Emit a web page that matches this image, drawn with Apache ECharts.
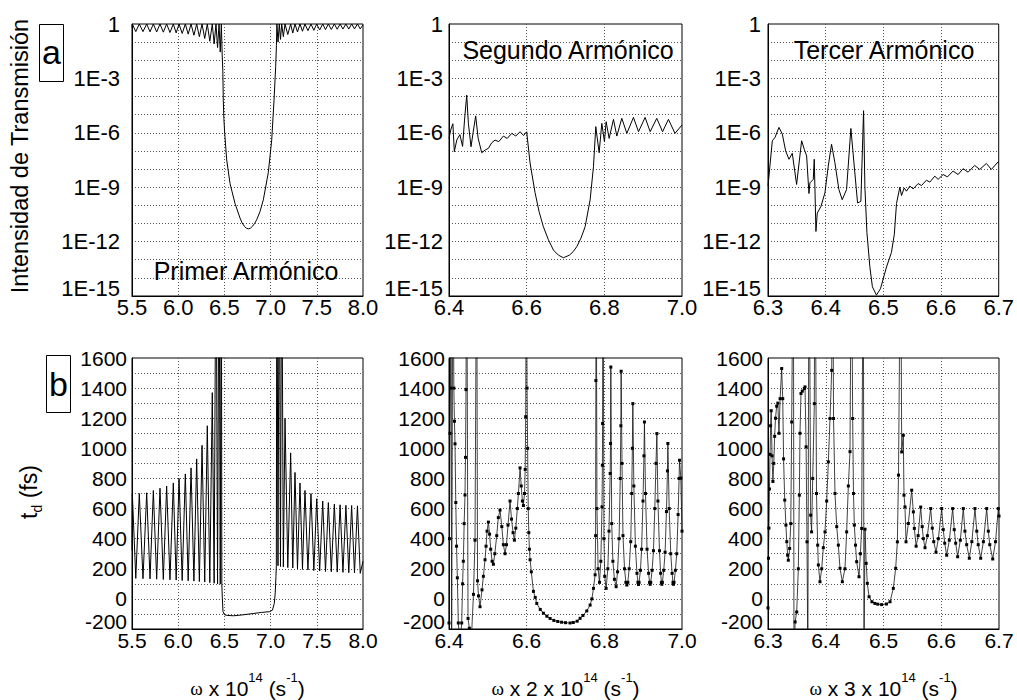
<!DOCTYPE html>
<html>
<head>
<meta charset="utf-8">
<script src="https://cdn.jsdelivr.net/npm/echarts@6/dist/echarts.min.js"></script>
<style>
  html, body { margin: 0; padding: 0; background: #fff; }
  #chart { width: 1017px; height: 700px; }
</style>
</head>
<body>
<div id="chart"></div>
<script>
// ---------- data ----------
// top row: log10 of the transmission intensity
const a1X = [5.500, 5.5036, 5.541, 5.579, 5.619, 5.659, 5.695, 5.731, 5.767, 5.803,
  5.839, 5.875, 5.911, 5.947, 5.978, 6.009, 6.043, 6.077, 6.108, 6.139,
  6.170, 6.200, 6.229, 6.258, 6.287, 6.315, 6.342, 6.369, 6.389, 6.409,
  6.426, 6.442, 6.455, 6.467, 6.476, 6.483, 6.488, 6.494, 6.503, 6.525,
  6.561, 6.615, 6.669, 6.692, 6.715, 6.737, 6.759, 6.782, 6.805, 6.827,
  6.849, 6.885, 6.921, 6.975, 7.012,
  7.037, 7.055, 7.063, 7.068, 7.080, 7.094, 7.107, 7.120, 7.138, 7.156,
  7.186, 7.217, 7.240, 7.264, 7.291, 7.318, 7.345, 7.372, 7.404, 7.437,
  7.468, 7.499, 7.531, 7.564, 7.594, 7.625, 7.657, 7.690, 7.721, 7.752,
  7.783, 7.815, 7.846, 7.877, 7.908, 7.940, 7.970, 8.000];
const a1Y = [-0.20, 0, -0.42, 0, -0.42, 0, -0.43, 0, -0.44, 0,
  -0.45, 0, -0.47, 0, -0.49, 0, -0.52, 0, -0.56, 0,
  -0.62, 0, -0.70, 0, -0.80, 0, -0.95, 0, -1.10, 0,
  -1.30, 0, -1.55, 0, -1.70, -2.60, -4.20, -5.20, -6.00, -7.50,
  -8.80, -9.90, -10.70, -10.97, -11.15, -11.26, -11.30, -11.26, -11.15, -11.00,
  -10.80, -10.35, -9.70, -8.20, -6.40,
  -4.20, -2.35, -1.20, 0, -1.00, 0, -0.85, 0, -0.70, 0,
  -0.58, 0, -0.50, 0, -0.44, 0, -0.40, 0, -0.37, 0,
  -0.35, 0, -0.33, 0, -0.31, 0, -0.30, 0, -0.29, 0,
  -0.28, 0, -0.28, 0, -0.27, 0, -0.27, -0.05];

const a2X = [6.4000, 6.4050, 6.4100, 6.4137, 6.4200, 6.4280, 6.4350, 6.4400, 6.4456, 6.4500,
  6.4567, 6.4620, 6.4687, 6.4750, 6.4843, 6.4930, 6.5013, 6.5100, 6.5186, 6.5280,
  6.5400, 6.5500, 6.5616, 6.5720, 6.5830, 6.5920, 6.6000, 6.6088, 6.6216, 6.6320, 6.6430,
  6.6560, 6.6690, 6.6820, 6.6946, 6.7100, 6.7200, 6.7290, 6.7400, 6.7505, 6.7634,
  6.7720, 6.7760, 6.7780, 6.7866,
  6.7935, 6.8003, 6.8046, 6.8124, 6.8235, 6.8322, 6.8450, 6.8580, 6.8750, 6.8880,
  6.9050, 6.9180, 6.9350, 6.9500, 6.9650, 6.9820, 7.0000];
const a2Y = [-6.30, -5.80, -5.50, -7.04, -6.40, -6.10, -6.75, -5.30, -3.92, -5.50,
  -6.77, -6.00, -5.07, -6.30, -7.10, -6.95, -6.86, -6.55, -6.40, -6.49,
  -6.18, -6.31, -6.03, -6.18, -5.94, -6.15, -5.94, -7.67, -9.30, -10.35, -11.18,
  -11.90, -12.47, -12.75, -12.89, -12.75, -12.55, -12.28, -11.80, -11.18, -9.70,
  -7.87, -6.40, -5.66, -7.10,
  -5.48, -6.49, -5.39, -6.31, -5.26, -6.18, -5.20, -6.03, -5.15, -5.94,
  -5.15, -5.94, -5.20, -5.94, -5.26, -6.03, -5.57];

const a3X = [6.3000, 6.3075, 6.3121, 6.3190, 6.3248, 6.3306, 6.3364, 6.3421, 6.3496, 6.3583,
  6.3629, 6.3670, 6.3710, 6.3727, 6.3785, 6.3802, 6.3831, 6.3854, 6.3918, 6.3987,
  6.4045, 6.4102, 6.4160, 6.4229, 6.4287, 6.4362, 6.4437, 6.4495, 6.4553, 6.4610,
  6.4657, 6.4680, 6.4715, 6.4766, 6.4810, 6.4880, 6.4950, 6.5055, 6.5140, 6.5190,
  6.5228, 6.5286, 6.5315, 6.5361, 6.5401, 6.5459, 6.5517, 6.5603, 6.5661, 6.5747,
  6.5805, 6.5892, 6.5949, 6.6036, 6.6111, 6.6209, 6.6296, 6.6382, 6.6469, 6.6584,
  6.6671, 6.6786, 6.6873, 6.6988, 6.7000];
const a3Y = [-8.94, -6.44, -6.26, -5.70, -6.07, -7.00, -7.46, -7.13, -8.85, -6.44,
  -6.91, -7.28, -9.35, -8.76, -8.57, -7.46, -11.44, -10.43, -10.06, -9.31,
  -7.83, -6.63, -7.65, -9.13, -9.69, -9.13, -5.76, -7.83, -9.87, -9.78,
  -4.78, -9.00, -11.50, -13.39, -14.49, -14.95, -14.60, -13.40, -12.60, -11.60,
  -9.90, -9.00, -9.46, -9.04, -9.22, -8.94, -9.09, -8.80, -8.91, -8.61,
  -8.72, -8.39, -8.57, -8.30, -8.43, -8.11, -8.30, -7.98, -8.17, -7.80,
  -8.02, -7.69, -8.02, -7.61, -7.62];

// bottom row: delay time t_d in fs (values above 1600 run off the frame)
const b1X = [5.500, 5.5036, 5.541, 5.579, 5.619, 5.659, 5.695, 5.731, 5.767, 5.803,
  5.839, 5.875, 5.911, 5.947, 5.978, 6.009, 6.043, 6.077, 6.108, 6.139,
  6.170, 6.200, 6.229, 6.258, 6.287, 6.315, 6.342, 6.369, 6.389, 6.409,
  6.426, 6.442, 6.455, 6.467, 6.472, 6.478, 6.485, 6.500, 6.530, 6.600,
  6.700, 6.800, 6.900, 6.990, 7.020, 7.040, 7.050, 7.058, 7.062, 7.068,
  7.080, 7.094, 7.107, 7.120, 7.138, 7.156, 7.186, 7.217, 7.240, 7.264,
  7.291, 7.318, 7.345, 7.372, 7.404, 7.437, 7.468, 7.499, 7.531, 7.564,
  7.594, 7.625, 7.657, 7.690, 7.721, 7.752, 7.783, 7.815, 7.846, 7.877,
  7.908, 7.940, 7.970, 8.000];
const b1Y = [320, 700, 136, 700, 134, 705, 133, 720, 131, 735,
  129, 750, 127, 770, 125, 800, 122, 830, 120, 870,
  118, 930, 115, 1020, 112, 1150, 108, 1370, 104, 2600,
  100, 2600, 98, 2600, 95, 0, -85, -105, -110, -112,
  -106, -98, -90, -85, -75, -30, 40, 150, 220, 2600,
  220, 2600, 215, 2600, 212, 1200, 208, 970, 205, 840,
  200, 770, 196, 720, 192, 700, 188, 665, 185, 650,
  182, 640, 180, 630, 178, 625, 176, 622, 174, 620,
  172, 618, 170, 250];

const b2X = [6.4000, 6.4012, 6.4025, 6.4038, 6.4052, 6.4068, 6.4100, 6.4125, 6.4140, 6.4155,
  6.4175, 6.4195, 6.4215, 6.4240, 6.4280, 6.4327, 6.4350, 6.4369, 6.4390, 6.4412,
  6.4425, 6.4438, 6.4455, 6.4490, 6.4524, 6.4570, 6.4630, 6.4670, 6.4713, 6.4735,
  6.4760, 6.4799, 6.4850, 6.4885, 6.4928, 6.4954, 6.4980, 6.5014, 6.5045, 6.5074,
  6.5110, 6.5143, 6.5180, 6.5229, 6.5270, 6.5314, 6.5360, 6.5400, 6.5443, 6.5480,
  6.5520, 6.5572, 6.5610, 6.5650, 6.5684, 6.5720, 6.5760, 6.5787, 6.5830, 6.5860,
  6.5890, 6.5916, 6.5945, 6.5962, 6.5975, 6.5995, 6.6010, 6.6025, 6.6040, 6.6055,
  6.6070, 6.6088, 6.6120, 6.6174, 6.6220, 6.6260, 6.6350, 6.6431, 6.6520, 6.6603,
  6.6700, 6.6800, 6.6900, 6.7000, 6.7119, 6.7200, 6.7300, 6.7376, 6.7450, 6.7548,
  6.7634, 6.7680, 6.7720, 6.7763, 6.7775, 6.7782, 6.7790, 6.7810, 6.7840, 6.7875,
  6.7910, 6.7940, 6.7950, 6.7955, 6.7965, 6.7990, 6.8010, 6.8046, 6.8090, 6.8120,
  6.8150, 6.8160, 6.8167, 6.8190, 6.8220, 6.8260, 6.8304, 6.8340, 6.8380, 6.8410,
  6.8425, 6.8433, 6.8455, 6.8480, 6.8520, 6.8555, 6.8580, 6.8605, 6.8640, 6.8680,
  6.8705, 6.8722, 6.8734, 6.8760, 6.8800, 6.8840, 6.8865, 6.8880, 6.8895, 6.8930,
  6.8960, 6.8995, 6.9020, 6.9033, 6.9060, 6.9100, 6.9140, 6.9165, 6.9180, 6.9195,
  6.9230, 6.9265, 6.9300, 6.9330, 6.9353, 6.9380, 6.9420, 6.9450, 6.9470, 6.9480,
  6.9495, 6.9530, 6.9565, 6.9600, 6.9625, 6.9636, 6.9670, 6.9710, 6.9745, 6.9768,
  6.9780, 6.9795, 6.9830, 6.9865, 6.9900, 6.9925, 6.9936, 6.9970, 7.0000];
const b2Y = [-160, 400, 1100, 1400, 2600, -400, 2600, 1400, 1180, 1030,
  640, 350, 140, -160, -300, -160, 100, 250, 500, 690,
  940, 1390, 2600, -130, -195, -300, 30, 390, 2600, 120,
  20, -52, 60, 150, 260, 350, 450, 510, 430, 330,
  250, 230, 300, 420, 540, 590, 480, 360, 300, 360,
  490, 650, 530, 440, 390, 470, 600, 700, 870, 750,
  650, 620, 700, 860, 1210, 2600, 1400, 1000, 600, 440,
  330, 260, 180, 50, 10, -30, -70, -95, -115, -130,
  -143, -150, -155, -158, -160, -157, -148, -129, -110, -80,
  -41, 0, 70, 160, 420, 1450, 2600, 600, 200, 110,
  250, 611, 888, 1165, 2600, 400, 150, 70, 200, 450,
  833, 1032, 1540, 500, 250, 130, 81, 180, 400, 800,
  1150, 1512, 900, 420, 200, 110, 92, 110, 200, 380,
  700, 1000, 1297, 750, 350, 170, 110, 96, 110, 190,
  330, 650, 950, 1175, 700, 330, 170, 110, 97, 110,
  190, 320, 600, 900, 1098, 650, 320, 170, 110, 97,
  110, 190, 310, 580, 850, 1032, 600, 300, 170, 110,
  97, 110, 190, 300, 560, 800, 921, 802, 450];

const b3X = [6.3000, 6.3008, 6.3016, 6.3025, 6.3035, 6.3045, 6.3055, 6.3070, 6.3085, 6.3100,
  6.3115, 6.3130, 6.3150, 6.3170, 6.3190, 6.3210, 6.3237, 6.3255, 6.3270, 6.3290,
  6.3310, 6.3325, 6.3340, 6.3352, 6.3375, 6.3395, 6.3410, 6.3439, 6.3450, 6.3470,
  6.3497, 6.3525, 6.3543, 6.3554, 6.3571, 6.3594, 6.3629, 6.3641, 6.3660, 6.3675,
  6.3690, 6.3710, 6.3739, 6.3755, 6.3774, 6.3802, 6.3814, 6.3840, 6.3860, 6.3872,
  6.3900, 6.3930, 6.3958, 6.3987, 6.4016, 6.4045, 6.4074, 6.4103, 6.4120, 6.4135,
  6.4160, 6.4190, 6.4218, 6.4247, 6.4287, 6.4333, 6.4362, 6.4391, 6.4420, 6.4445,
  6.4466, 6.4480, 6.4495, 6.4515, 6.4535, 6.4576, 6.4600, 6.4622, 6.4650, 6.4662,
  6.4680, 6.4700, 6.4720, 6.4750, 6.4800, 6.4850, 6.4900, 6.4968, 6.5050, 6.5113,
  6.5170, 6.5211, 6.5240, 6.5260, 6.5297, 6.5315, 6.5343, 6.5355, 6.5372, 6.5390,
  6.5430, 6.5488, 6.5517, 6.5534, 6.5565, 6.5600, 6.5644, 6.5670, 6.5690, 6.5719,
  6.5760, 6.5817, 6.5845, 6.5870, 6.5909, 6.5950, 6.6008, 6.6035, 6.6060, 6.6094,
  6.6140, 6.6198, 6.6225, 6.6250, 6.6284, 6.6330, 6.6382, 6.6410, 6.6440, 6.6486,
  6.6530, 6.6584, 6.6615, 6.6640, 6.6683, 6.6730, 6.6787, 6.6815, 6.6840, 6.6891,
  6.6940, 6.6988, 6.7000];
const b3Y = [-60, 270, 470, 730, 960, 1150, 1250, 950, 780, 900,
  1080, 1200, 1280, 1300, 1100, 1330, 1530, 1330, 930, 656,
  490, 380, 290, 257, 335, 500, 1175, 2600, -400, -153,
  -87, 200, 689, 1100, 1364, 1380, 1397, 1408, 1010, 379,
  -400, 2600, 556, 445, 800, 1297, 2600, 700, 357, 225,
  114, 200, 340, 445, 650, 910, 1198, 1518, 2600, 1198,
  700, 480, 357, 203, 114, 200, 445, 750, 978, 2600,
  1198, 700, 490, 357, 247, 147, 300, 468, 2600, -400,
  463, 236, 103, 14, -19, -30, -35, -38, -34, -19,
  70, 203, 379, 822, 2600, 976, 1087, 689, 611, 379,
  501, 722, 578, 468, 350, 420, 610, 480, 400, 340,
  420, 600, 470, 380, 310, 400, 600, 460, 370, 290,
  390, 600, 460, 370, 280, 390, 600, 450, 360, 270,
  380, 600, 450, 360, 270, 380, 600, 450, 360, 265,
  380, 600, 550];

// axis ranges per column
const xMin = [5.5, 6.4, 6.3];
const xMax = [8.0, 7.0, 6.7];
const xStep = [0.5, 0.2, 0.1];
const notes = ['Primer Armónico', 'Segundo Armónico', 'Tercer Armónico'];
const xTitles = ['{w|ω} x 10{s|14} (s{s|-1})', '{w|ω} x 2 x 10{s|14} (s{s|-1})', '{w|ω} x 3 x 10{s|14} (s{s|-1})'];

// ---------- chart ----------
const FONT = 'Liberation Sans, Arial, Helvetica, sans-serif';
const pairs = (xs, ys) => xs.map((x, i) => [x, ys[i]]);

const gridBox = [
  { left: 132, top: 24, width: 231, height: 272 },
  { left: 449, top: 24, width: 233, height: 272 },
  { left: 768, top: 24, width: 231, height: 272 },
  { left: 132, top: 358, width: 231, height: 271 },
  { left: 449, top: 358, width: 233, height: 271 },
  { left: 768, top: 358, width: 231, height: 271 }
];
const yLabelGap = [12, 6, 7, 5, 4, 5];

const dotted = { show: true, showMinLine: false, showMaxLine: false,
  lineStyle: { color: '#555', type: [1, 2], width: 1 } };

const grid = gridBox.map(g => Object.assign({ show: true, borderColor: '#000', borderWidth: 1 }, g));

const xAxis = gridBox.map((g, i) => {
  const c = i % 3;
  return {
    gridIndex: i, type: 'value', min: xMin[c], max: xMax[c], interval: xStep[c],
    axisLine: { show: true, onZero: false, lineStyle: { color: '#000' } },
    axisTick: { show: false },
    axisLabel: { color: '#000', fontFamily: FONT, fontSize: i < 3 ? 22 : 21, margin: i < 3 ? 0 : 1,
      formatter: v => v.toFixed(1) },
    splitLine: dotted
  };
});

const yAxis = gridBox.map((g, i) => {
  const top = i < 3;
  const size = top ? 22 : 21;
  // the lowest y label sits a little higher, clear of the first x label
  const low = { fontFamily: FONT, fontSize: size, color: '#000', padding: [0, 0, 16, 0] };
  return {
    gridIndex: i, type: 'value',
    min: top ? -15 : -200, max: top ? 0 : 1600, interval: top ? 1 : 100,
    axisLine: { show: true, onZero: false, lineStyle: { color: '#000' } },
    axisTick: { show: false },
    axisLabel: {
      color: '#000', fontFamily: FONT, fontSize: size, margin: yLabelGap[i],
      rich: { low },
      formatter: top
        ? v => (v === 0 ? '1' : (v === -15 ? '{low|1E-15}' : (v % 3 === 0 ? '1E' + v : '')))
        : v => (v === -200 ? '{low|-200}' : (v % 200 === 0 ? String(v) : ''))
    },
    splitLine: dotted
  };
});

const plain = { type: 'line', showSymbol: false, silent: true, clip: true,
  lineStyle: { color: '#000', width: 1 } };
const dots = { type: 'line', showSymbol: true, showAllSymbol: true, symbol: 'rect', symbolSize: 3,
  silent: true, clip: true, itemStyle: { color: '#000' }, lineStyle: { color: '#111', width: 0.8 } };

const series = [
  Object.assign({ xAxisIndex: 0, yAxisIndex: 0, data: pairs(a1X, a1Y) }, plain),
  Object.assign({ xAxisIndex: 1, yAxisIndex: 1, data: pairs(a2X, a2Y) }, plain),
  Object.assign({ xAxisIndex: 2, yAxisIndex: 2, data: pairs(a3X, a3Y) }, plain),
  Object.assign({ xAxisIndex: 3, yAxisIndex: 3, data: pairs(b1X, b1Y) }, plain),
  Object.assign({ xAxisIndex: 4, yAxisIndex: 4, data: pairs(b2X, b2Y) }, dots),
  Object.assign({ xAxisIndex: 5, yAxisIndex: 5, data: pairs(b3X, b3Y) }, dots)
];

const txt = (x, y, text, size, extra) => ({
  type: 'text', x, y, silent: true, z: 100,
  style: Object.assign({ text, fill: '#000', fontFamily: FONT, fontSize: size,
    align: 'center', verticalAlign: 'middle' }, extra || {})
});

const graphic = [
  // axis titles
  Object.assign(txt(20, 156, 'Intensidad de Transmisión', 23.5), { rotation: Math.PI / 2 }),
  Object.assign(txt(29, 492, '{t|t}{d|d} (fs)', 23, {
    lineHeight: 30,
    rich: { t: { fontSize: 23, lineHeight: 30 }, d: { fontSize: 14, lineHeight: 14, verticalAlign: 'bottom' } }
  }), { rotation: Math.PI / 2 }),
  // panel letters
  { type: 'rect', silent: true, z: 100, shape: { x: 39.5, y: 24.5, width: 24, height: 57 },
    style: { fill: '#fff', stroke: '#000', lineWidth: 1 } },
  txt(51.5, 52, 'a', 34),
  { type: 'rect', silent: true, z: 100, shape: { x: 46.5, y: 355.5, width: 24, height: 57 },
    style: { fill: '#fff', stroke: '#000', lineWidth: 1 } },
  txt(58.5, 384, 'b', 34),
  // harmonic notes
  txt(246, 271, notes[0], 25),
  txt(568, 50, notes[1], 25),
  txt(884, 50, notes[2], 25)
];
[247.5, 565.5, 883.5].forEach((cx, c) => {
  graphic.push(txt(cx, 688, xTitles[c], 21, {
    lineHeight: 34,
    rich: {
      w: { fontFamily: 'Liberation Serif, DejaVu Serif, serif', fontSize: 19, lineHeight: 34 },
      s: { fontSize: 13, lineHeight: 13, verticalAlign: 'top' }
    }
  }));
});

const chart = echarts.init(document.getElementById('chart'), null, { renderer: 'svg' });
chart.setOption({
  backgroundColor: '#fff',
  animation: false,
  grid, xAxis, yAxis, series, graphic
});
window.addEventListener('resize', function () { chart.resize(); });
</script>
</body>
</html>
